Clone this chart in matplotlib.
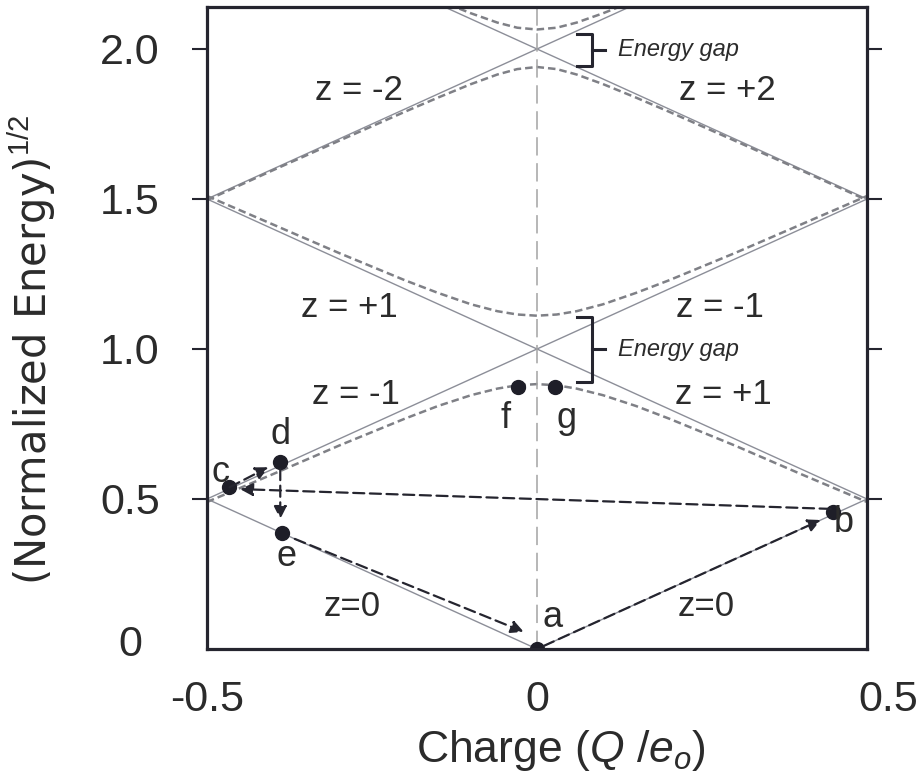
import matplotlib
matplotlib.use('Agg')
import matplotlib.pyplot as plt
from matplotlib import transforms

plt.rcParams['font.family'] = ['Liberation Sans', 'DejaVu Sans']
plt.rcParams['mathtext.fontset'] = 'custom'
plt.rcParams['mathtext.rm'] = 'Liberation Sans'
plt.rcParams['mathtext.it'] = 'Liberation Sans:italic'

# free-charge parabolas (straight lines in sqrt-energy)
free_x = [[-0.5, 0.0, 0.5], [-0.5, 0.5], [-0.5, 0.5], [-0.5, 0.5], [-0.5, 0.5]]
free_y = [[0.5, 0.0, 0.5], [0.5, 1.5], [1.5, 0.5], [1.5, 2.5], [2.5, 1.5]]

# bands with gaps (dashed grey)
band_x = [-0.5, -0.4, -0.3, -0.2, -0.15, -0.1, -0.06, -0.03, 0.0,
          0.03, 0.06, 0.1, 0.15, 0.2, 0.3, 0.4, 0.5]
band1_y = [0.49, 0.583, 0.678, 0.768, 0.81, 0.846, 0.868, 0.879, 0.883,
           0.879, 0.868, 0.846, 0.81, 0.768, 0.678, 0.583, 0.49]
band2_y = [1.51, 1.415, 1.32, 1.229, 1.187, 1.149, 1.126, 1.115, 1.111,
           1.115, 1.126, 1.149, 1.187, 1.229, 1.32, 1.415, 1.51]
band3_y = [1.496, 1.596, 1.694, 1.791, 1.838, 1.883, 1.915, 1.933, 1.94,
           1.933, 1.915, 1.883, 1.838, 1.791, 1.694, 1.596, 1.496]
band4_x = [-0.15, -0.1, -0.06, -0.03, 0.0, 0.03, 0.06, 0.1, 0.15]
band4_y = [2.163, 2.119, 2.088, 2.071, 2.065, 2.071, 2.088, 2.119, 2.163]

# states a..g
pt_names = ['a', 'b', 'c', 'd', 'e', 'f', 'g']
pt_x = [0.0, 0.448, -0.466, -0.389, -0.387, -0.029, 0.027]
pt_y = [0.0, 0.457, 0.539, 0.625, 0.387, 0.873, 0.873]
lab_x = [0.024, 0.465, -0.48, -0.388, -0.38, -0.048, 0.044]
lab_y = [0.073, 0.39, 0.557, 0.683, 0.277, 0.735, 0.735]

# transitions e->a, a->b, b->c, c->d, d->e
arr_x0 = [-0.367, 0.01, 0.445, -0.466, -0.389]
arr_y0 = [0.367, 0.01, 0.467, 0.539, 0.6]
arr_x1 = [-0.02, 0.43, -0.45, -0.407, -0.389]
arr_y1 = [0.057, 0.43, 0.533, 0.606, 0.433]

z_text = ['z = -2', 'z = +2', 'z = +1', 'z = -1', 'z = -1', 'z = +1', 'z=0', 'z=0']
z_x = [-0.27, 0.288, -0.285, 0.277, -0.274, 0.283, -0.28, 0.256]
z_y = [1.86, 1.86, 1.14, 1.14, 0.847, 0.847, 0.143, 0.143]

# energy gaps (bottom, top)
gaps = [(0.89, 1.107), (1.944, 2.05)]

DARK = '#25252f'
TXT = '#2b2b2b'

fig = plt.figure(figsize=(9.19, 7.75), dpi=100)
ax = fig.add_axes([207 / 919, 126 / 775, 660 / 919, 642 / 775])

for xs, ys in zip(free_x, free_y):
    ax.plot(xs, ys, color='#8c8e98', lw=1.0)

for xs, ys in [(band_x, band1_y), (band_x, band2_y), (band_x, band3_y), (band4_x, band4_y)]:
    ax.plot(xs, ys, color='#7f8086', lw=1.8, ls=(0, (3, 1.6)))

ax.axvline(0, color='#a3a3a3', lw=1.1, ls=(0, (12, 5)))

for x0, y0, x1, y1 in zip(arr_x0, arr_y0, arr_x1, arr_y1):
    ax.annotate('', xy=(x1, y1), xytext=(x0, y0),
                arrowprops=dict(arrowstyle='-|>', ls=(0, (5, 2.5)), lw=1.6,
                                color=DARK, mutation_scale=19,
                                shrinkA=0, shrinkB=0))

ax.plot(pt_x, pt_y, 'o', color='#1e1e28', ms=10, zorder=2.4)
for name, x, y in zip(pt_names, lab_x, lab_y):
    ax.text(x, y, name, fontsize=26, color=TXT, ha='center', va='baseline')

for t, x, y in zip(z_text, z_x, z_y):
    ax.text(x, y, t, fontsize=25, color=TXT, ha='center', va='center')

for lo, hi in gaps:
    mid = (lo + hi) / 2
    ax.plot([0.06, 0.083, 0.083, 0.06], [hi, hi, lo, lo], color=DARK, lw=2.2,
            solid_joinstyle='round')
    ax.plot([0.083, 0.103], [mid, mid], color=DARK, lw=2.2)
    ax.text(0.123, mid, 'Energy gap', fontsize=17, style='italic',
            color=TXT, ha='left', va='center')

ax.set_xlim(-0.5, 0.5)
ax.set_ylim(0, 2.14)
ax.set_xticks([-0.5, 0, 0.5])
ax.set_xticklabels(['-0.5', '0', '0.5'])
ax.set_yticks([0, 0.5, 1.0, 1.5, 2.0])
ax.set_yticklabels(['0', '0.5', '1.0', '1.5', '2.0'])

for sp in ax.spines.values():
    sp.set_linewidth(2.3)
    sp.set_color(DARK)

ax.tick_params(axis='y', direction='out', length=10.8, width=1.5, color=DARK,
               left=True, right=True, labelsize=31, pad=44.6, labelcolor=TXT)
ax.tick_params(axis='x', length=0, labelsize=31, pad=22, labelcolor=TXT)
for lab in ax.get_yticklabels():
    lab.set_horizontalalignment('center')
yt = ax.yaxis.get_major_ticks()
yt[0].tick1line.set_visible(False)
yt[0].tick2line.set_visible(False)

lab0 = ax.get_yticklabels()[0]
lab0.set_transform(lab0.get_transform() +
                   transforms.ScaledTranslation(0, 0.08, fig.dpi_scale_trans))
lab = ax.get_xticklabels()[2]
lab.set_transform(lab.get_transform() +
                  transforms.ScaledTranslation(0.21, 0, fig.dpi_scale_trans))

ax.set_ylabel('(Normalized Energy)$^{1/2}$', fontsize=30, color=TXT,
              family='DejaVu Sans')
ax.yaxis.set_label_coords(-0.226, 0.466)
ax.set_xlabel('Charge $\\mathit{(Q\\ /e_o)}$', fontsize=32, color=TXT)
ax.xaxis.set_label_coords(0.536, -0.123)

fig.savefig('out.png', dpi=100)
